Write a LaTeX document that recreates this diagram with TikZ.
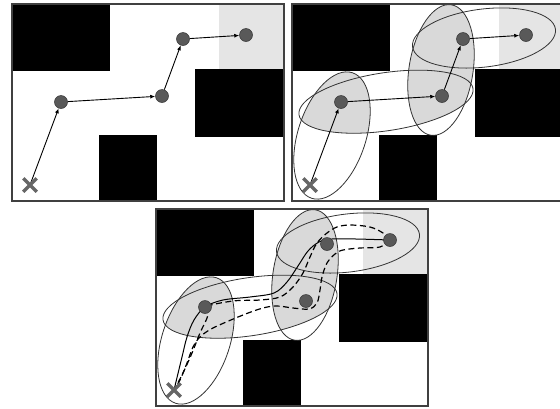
\documentclass[tikz,border=0pt]{standalone}
\usetikzlibrary{arrows.meta,shapes.misc}
\pgfdeclarelayer{front}
\pgfsetlayers{main,front}
\tikzset{
  wall/.style={fill=black},
  goalarea/.style={fill=black!10},
  stipple/.style={fill=black!15},
  frame/.style={draw=black!75,line width=1.3pt},
  region/.style={draw=black!80,line width=0.8pt},
  waypt/.style={circle,fill=black!65,draw=black!80,line width=0.5pt,minimum size=13pt,inner sep=0pt},
  startmark/.style={cross out,draw=black!60,line width=3.5pt,minimum size=10pt,inner sep=0pt},
  move/.style={-{Latex[length=5pt,width=4pt]},line width=0.9pt},
  trace/.style={line width=1pt},
  alt/.style={line width=1.2pt,dash pattern=on 6pt off 3.5pt}
}
% the four regions, in panel coordinates
\newcommand{\regA}{[rotate around={72:(40,131.5)}] (40,131.5) ellipse [x radius=66,y radius=34]}
\newcommand{\regB}{[rotate around={8.6:(94,97.7)}] (94,97.7) ellipse [x radius=88,y radius=29]}
\newcommand{\regC}{[rotate around={81:(149,66)}] (149,66) ellipse [x radius=66,y radius=32]}
\newcommand{\regD}{[rotate around={7:(192,34)}] (192,34) ellipse [x radius=72,y radius=29]}
\begin{document}
\begin{tikzpicture}[x=1pt,y=-1pt]
  \useasboundingbox (0,0) rectangle (560,408);
  % map of each panel
  \foreach \dx/\dy in {12/4,292/4,156/209}{
    \begin{scope}[shift={(\dx,\dy)}]
      \fill[goalarea] (207,0) rectangle (272,65);
      \fill[wall] (0,0) rectangle (98,67);
      \fill[wall] (183,65) rectangle (272,133);
      \fill[wall] (87,131) rectangle (145,197);
    \end{scope}
  }
  % regions
  \foreach \dx/\dy in {292/4,156/209}{
    \begin{scope}[shift={(\dx,\dy)}]
      \begin{scope}
        \clip \regA;
        \fill[stipple] \regB;
        \fill[stipple] (0,0) rectangle (272,90);
      \end{scope}
      \begin{scope}
        \clip \regC;
        \fill[stipple] \regB;
        \fill[stipple] (0,0) rectangle (272,85);
      \end{scope}
      \draw[region] \regA;
      \draw[region] \regB;
      \draw[region] \regC;
      \draw[region] \regD;
    \end{scope}
  }
  % waypoints
  \begin{pgfonlayer}{front}
    \foreach \p/\dx/\dy in {1/12/4,2/292/4,3/156/209}{
      \begin{scope}[shift={(\dx,\dy)}]
        \node[startmark] (s\p) at (18,181) {};
        \node[waypt] (a\p) at (49,98) {};
        \node[waypt] (b\p) at (150,92) {};
        \node[waypt] (c\p) at (171,35) {};
        \node[waypt] (d\p) at (234,31) {};
        \draw[frame] (0,0) rectangle (272,197);
      \end{scope}
    }
  \end{pgfonlayer}
  \foreach \p in {1,2}{
    \draw[move] (s\p.center) -- (a\p);
    \draw[move] (a\p) -- (b\p);
    \draw[move] (b\p) -- (c\p);
    \draw[move] (c\p) -- (d\p);
  }
  % traces
  \begin{scope}[shift={(156,209)}]
    \draw[trace] plot[smooth,tension=0.55] coordinates {(s3.center) (26,148) (31,128) (38,111) (a3.center) (67,91) (94,88) (118,84) (131,73) (142,57) (152,42) (163,33) (176,30) (200,30) (d3.center)};
    \draw[alt] plot[smooth,tension=0.55] coordinates {(d3.center) (227,24) (214,18) (194,16) (181,18) (171,24) (161,34) (154,48) (147,64) (137,78) (124,88) (104,91) (77,92) (a3.center) (52,106) (44,124) (36,144) (27,164) (s3.center)};
    \draw[alt] plot[smooth,tension=0.55] coordinates {(d3.center) (224,38) (204,39) (187,41) (179,45) (171,54) (166,68) (164,81) (161,94) (153,100) (137,99) (121,97) (107,99) (87,106) (57,119) (44,128) (37,138) (31,154) (24,171) (s3.center)};
  \end{scope}
\end{tikzpicture}
\end{document}
